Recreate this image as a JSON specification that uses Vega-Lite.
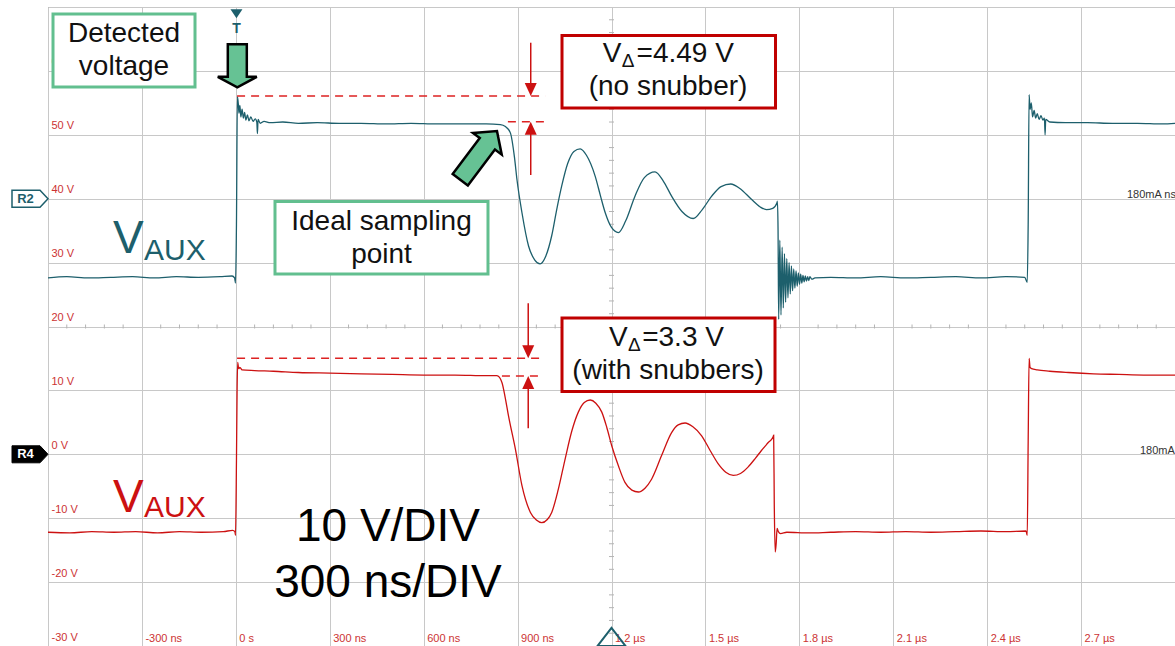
{
  "$schema": "https://vega.github.io/schema/vega-lite/v6.json",
  "width": 1127,
  "height": 639,
  "autosize": {"type": "none"},
  "padding": {"left": 48, "top": 7, "right": 0, "bottom": 0},
  "background": "white",
  "config": {"view": {"stroke": "#808080", "strokeWidth": 1}, "font": "Liberation Sans"},
  "encoding": {
    "x": {"field": "t", "type": "quantitative",
      "scale": {"domain": [-600, 3000], "nice": false, "zero": false},
      "axis": {"title": null, "values": [-600, -300, 0, 300, 600, 900, 1200, 1500, 1800, 2100, 2400, 2700, 3000],
        "grid": true, "gridColor": "#c8c8c8", "gridWidth": 1, "domain": false, "ticks": false, "tickSize": 0,
        "labelAlign": "left", "labelBaseline": "alphabetic", "labelPadding": -5, "labelOffset": 3,
        "labelFlush": false, "labelOverlap": false, "labelAngle": 0, "labelColor": "#cc3333",
        "labelFont": "Liberation Sans", "labelFontSize": 11,
        "labelExpr": "datum.value == -600 || datum.value == 3000 ? '' : datum.value == 0 ? '0 s' : abs(datum.value) < 1000 ? datum.value + ' ns' : format(datum.value / 1000, '.1f') + ' µs'"}},
    "y": {"field": "v", "type": "quantitative",
      "scale": {"domain": [-30, 70], "nice": false, "zero": false},
      "axis": {"title": null, "values": [-30, -20, -10, 0, 10, 20, 30, 40, 50, 60, 70],
        "grid": true, "gridColor": "#c8c8c8", "gridWidth": 1, "domain": false, "ticks": false, "tickSize": 0,
        "labelAlign": "left", "labelBaseline": "alphabetic", "labelPadding": -3, "labelOffset": -6,
        "labelOverlap": false, "labelColor": "#cc3333", "labelFont": "Liberation Sans", "labelFontSize": 11,
        "labelExpr": "datum.value >= 70 ? '' : datum.value + ' V'"}}
  },
  "layer": [
    {
      "data": {"values": [
        {"t": -540, "v": 20}, {"t": -480, "v": 20}, {"t": -420, "v": 20}, {"t": -360, "v": 20},
        {"t": -240, "v": 20}, {"t": -180, "v": 20}, {"t": -120, "v": 20}, {"t": -60, "v": 20},
        {"t": 60, "v": 20}, {"t": 120, "v": 20}, {"t": 180, "v": 20}, {"t": 240, "v": 20},
        {"t": 360, "v": 20}, {"t": 420, "v": 20}, {"t": 480, "v": 20}, {"t": 540, "v": 20},
        {"t": 660, "v": 20}, {"t": 720, "v": 20}, {"t": 780, "v": 20}, {"t": 840, "v": 20},
        {"t": 960, "v": 20}, {"t": 1020, "v": 20}, {"t": 1080, "v": 20}, {"t": 1140, "v": 20},
        {"t": 1260, "v": 20}, {"t": 1320, "v": 20}, {"t": 1380, "v": 20}, {"t": 1440, "v": 20},
        {"t": 1560, "v": 20}, {"t": 1620, "v": 20}, {"t": 1680, "v": 20}, {"t": 1740, "v": 20},
        {"t": 1860, "v": 20}, {"t": 1920, "v": 20}, {"t": 1980, "v": 20}, {"t": 2040, "v": 20},
        {"t": 2160, "v": 20}, {"t": 2220, "v": 20}, {"t": 2280, "v": 20}, {"t": 2340, "v": 20},
        {"t": 2460, "v": 20}, {"t": 2520, "v": 20}, {"t": 2580, "v": 20}, {"t": 2640, "v": 20},
        {"t": 2760, "v": 20}, {"t": 2820, "v": 20}, {"t": 2880, "v": 20}, {"t": 2940, "v": 20}
      ]},
      "mark": {"type": "tick", "orient": "vertical", "size": 4, "thickness": 1, "color": "#b4b4b4", "opacity": 1}
    },
    {
      "data": {"values": [
        {"t": 1200, "v": -28}, {"t": 1200, "v": -26}, {"t": 1200, "v": -24}, {"t": 1200, "v": -22},
        {"t": 1200, "v": -18}, {"t": 1200, "v": -16}, {"t": 1200, "v": -14}, {"t": 1200, "v": -12},
        {"t": 1200, "v": -8}, {"t": 1200, "v": -6}, {"t": 1200, "v": -4}, {"t": 1200, "v": -2},
        {"t": 1200, "v": 2}, {"t": 1200, "v": 4}, {"t": 1200, "v": 6}, {"t": 1200, "v": 8},
        {"t": 1200, "v": 12}, {"t": 1200, "v": 14}, {"t": 1200, "v": 16}, {"t": 1200, "v": 18},
        {"t": 1200, "v": 22}, {"t": 1200, "v": 24}, {"t": 1200, "v": 26}, {"t": 1200, "v": 28},
        {"t": 1200, "v": 32}, {"t": 1200, "v": 34}, {"t": 1200, "v": 36}, {"t": 1200, "v": 38},
        {"t": 1200, "v": 42}, {"t": 1200, "v": 44}, {"t": 1200, "v": 46}, {"t": 1200, "v": 48},
        {"t": 1200, "v": 52}, {"t": 1200, "v": 54}, {"t": 1200, "v": 56}, {"t": 1200, "v": 58},
        {"t": 1200, "v": 62}, {"t": 1200, "v": 64}, {"t": 1200, "v": 66}, {"t": 1200, "v": 68}
      ]},
      "mark": {"type": "tick", "orient": "horizontal", "size": 5, "thickness": 1, "color": "#b4b4b4", "opacity": 1}
    },
    {
      "data": {"values": [
        {"ch": "R2", "t": -600, "v": 27.6}, {"ch": "R2", "t": -540, "v": 27.8}, {"ch": "R2", "t": -470, "v": 27.6},
        {"ch": "R2", "t": -400, "v": 27.7}, {"ch": "R2", "t": -330, "v": 27.8}, {"ch": "R2", "t": -260, "v": 27.6},
        {"ch": "R2", "t": -190, "v": 27.8}, {"ch": "R2", "t": -120, "v": 27.7}, {"ch": "R2", "t": -50, "v": 27.8},
        {"ch": "R2", "t": -12, "v": 27.9}, {"ch": "R2", "t": -4, "v": 27.6}, {"ch": "R2", "t": -1, "v": 26.8},
        {"ch": "R2", "t": 2, "v": 36}, {"ch": "R2", "t": 5, "v": 56.0}, {"ch": "R2", "t": 8, "v": 54.8},
        {"ch": "R2", "t": 10, "v": 53.4}, {"ch": "R2", "t": 13, "v": 54.6}, {"ch": "R2", "t": 16, "v": 52.8},
        {"ch": "R2", "t": 20, "v": 54.0}, {"ch": "R2", "t": 24, "v": 52.6}, {"ch": "R2", "t": 28, "v": 53.5},
        {"ch": "R2", "t": 32, "v": 52.3}, {"ch": "R2", "t": 37, "v": 53.1}, {"ch": "R2", "t": 42, "v": 52.2},
        {"ch": "R2", "t": 48, "v": 52.8}, {"ch": "R2", "t": 55, "v": 52.1}, {"ch": "R2", "t": 62, "v": 52.5},
        {"ch": "R2", "t": 67, "v": 52.0}, {"ch": "R2", "t": 69, "v": 50.2}, {"ch": "R2", "t": 71, "v": 52.4},
        {"ch": "R2", "t": 78, "v": 51.8}, {"ch": "R2", "t": 90, "v": 52.1}, {"ch": "R2", "t": 110, "v": 51.9},
        {"ch": "R2", "t": 150, "v": 52.0}, {"ch": "R2", "t": 200, "v": 51.8}, {"ch": "R2", "t": 260, "v": 51.9},
        {"ch": "R2", "t": 330, "v": 51.8}, {"ch": "R2", "t": 400, "v": 51.8}, {"ch": "R2", "t": 480, "v": 51.7},
        {"ch": "R2", "t": 560, "v": 51.8}, {"ch": "R2", "t": 640, "v": 51.7}, {"ch": "R2", "t": 720, "v": 51.7},
        {"ch": "R2", "t": 800, "v": 51.7}, {"ch": "R2", "t": 845, "v": 51.6}, {"ch": "R2", "t": 861, "v": 51.3},
        {"ch": "R2", "t": 877, "v": 50.3}, {"ch": "R2", "t": 890, "v": 46.5}, {"ch": "R2", "t": 898, "v": 43.0},
        {"ch": "R2", "t": 914, "v": 37.8}, {"ch": "R2", "t": 935, "v": 32.6}, {"ch": "R2", "t": 955, "v": 30.4},
        {"ch": "R2", "t": 972, "v": 29.8}, {"ch": "R2", "t": 990, "v": 31.0}, {"ch": "R2", "t": 1009, "v": 34.2},
        {"ch": "R2", "t": 1025, "v": 38.3}, {"ch": "R2", "t": 1041, "v": 42.0}, {"ch": "R2", "t": 1060, "v": 45.5},
        {"ch": "R2", "t": 1080, "v": 47.4}, {"ch": "R2", "t": 1100, "v": 47.8}, {"ch": "R2", "t": 1120, "v": 46.8},
        {"ch": "R2", "t": 1148, "v": 43.5}, {"ch": "R2", "t": 1165, "v": 40.4}, {"ch": "R2", "t": 1180, "v": 37.8},
        {"ch": "R2", "t": 1200, "v": 35.5}, {"ch": "R2", "t": 1222, "v": 34.7}, {"ch": "R2", "t": 1245, "v": 36.5},
        {"ch": "R2", "t": 1275, "v": 40.4}, {"ch": "R2", "t": 1305, "v": 43.3}, {"ch": "R2", "t": 1339, "v": 44.2},
        {"ch": "R2", "t": 1365, "v": 42.8}, {"ch": "R2", "t": 1392, "v": 40.4}, {"ch": "R2", "t": 1425, "v": 38.0},
        {"ch": "R2", "t": 1461, "v": 36.9}, {"ch": "R2", "t": 1490, "v": 38.3}, {"ch": "R2", "t": 1520, "v": 40.4},
        {"ch": "R2", "t": 1550, "v": 41.9}, {"ch": "R2", "t": 1581, "v": 42.3}, {"ch": "R2", "t": 1610, "v": 41.6},
        {"ch": "R2", "t": 1647, "v": 39.9}, {"ch": "R2", "t": 1675, "v": 38.7}, {"ch": "R2", "t": 1695, "v": 38.3},
        {"ch": "R2", "t": 1715, "v": 38.5}, {"ch": "R2", "t": 1728, "v": 39.3}, {"ch": "R2", "t": 1730, "v": 39.6},
        {"ch": "R2", "t": 1732, "v": 35.2}, {"ch": "R2", "t": 1734, "v": 21.1}, {"ch": "R2", "t": 1737.7, "v": 33.5},
        {"ch": "R2", "t": 1741.4, "v": 21.8}, {"ch": "R2", "t": 1745.1, "v": 32.4}, {"ch": "R2", "t": 1748.8, "v": 22.9},
        {"ch": "R2", "t": 1752.5, "v": 31.4}, {"ch": "R2", "t": 1756.2, "v": 23.8}, {"ch": "R2", "t": 1759.9, "v": 30.6},
        {"ch": "R2", "t": 1763.6, "v": 24.5}, {"ch": "R2", "t": 1767.3, "v": 30.0}, {"ch": "R2", "t": 1771, "v": 25.1},
        {"ch": "R2", "t": 1774.7, "v": 29.5}, {"ch": "R2", "t": 1778.4, "v": 25.6}, {"ch": "R2", "t": 1782.1, "v": 29.0},
        {"ch": "R2", "t": 1785.8, "v": 26.0}, {"ch": "R2", "t": 1789.5, "v": 28.7}, {"ch": "R2", "t": 1793.2, "v": 26.3},
        {"ch": "R2", "t": 1796.9, "v": 28.4}, {"ch": "R2", "t": 1800.6, "v": 26.6}, {"ch": "R2", "t": 1804.3, "v": 28.2},
        {"ch": "R2", "t": 1808, "v": 26.8}, {"ch": "R2", "t": 1811.7, "v": 28.0}, {"ch": "R2", "t": 1815.4, "v": 27.0},
        {"ch": "R2", "t": 1819.1, "v": 27.9}, {"ch": "R2", "t": 1822.8, "v": 27.1}, {"ch": "R2", "t": 1826.5, "v": 27.8},
        {"ch": "R2", "t": 1830.2, "v": 27.2}, {"ch": "R2", "t": 1833.9, "v": 27.8}, {"ch": "R2", "t": 1840, "v": 27.4},
        {"ch": "R2", "t": 1850, "v": 27.6}, {"ch": "R2", "t": 1900, "v": 27.7}, {"ch": "R2", "t": 1980, "v": 27.6},
        {"ch": "R2", "t": 2060, "v": 27.8}, {"ch": "R2", "t": 2140, "v": 27.6}, {"ch": "R2", "t": 2220, "v": 27.7},
        {"ch": "R2", "t": 2300, "v": 27.8}, {"ch": "R2", "t": 2380, "v": 27.6}, {"ch": "R2", "t": 2460, "v": 27.8},
        {"ch": "R2", "t": 2520, "v": 27.7}, {"ch": "R2", "t": 2528, "v": 26.9}, {"ch": "R2", "t": 2531, "v": 36},
        {"ch": "R2", "t": 2534, "v": 56.3}, {"ch": "R2", "t": 2537, "v": 54.0}, {"ch": "R2", "t": 2541, "v": 55.0},
        {"ch": "R2", "t": 2545, "v": 52.8}, {"ch": "R2", "t": 2550, "v": 53.8}, {"ch": "R2", "t": 2555, "v": 52.6},
        {"ch": "R2", "t": 2560, "v": 53.3}, {"ch": "R2", "t": 2566, "v": 52.4}, {"ch": "R2", "t": 2572, "v": 53.0},
        {"ch": "R2", "t": 2578, "v": 52.3}, {"ch": "R2", "t": 2583, "v": 52.6}, {"ch": "R2", "t": 2585, "v": 50.0},
        {"ch": "R2", "t": 2587, "v": 52.4}, {"ch": "R2", "t": 2600, "v": 52.0}, {"ch": "R2", "t": 2650, "v": 51.9},
        {"ch": "R2", "t": 2720, "v": 51.9}, {"ch": "R2", "t": 2800, "v": 51.8}, {"ch": "R2", "t": 2880, "v": 51.8},
        {"ch": "R2", "t": 2960, "v": 51.7}, {"ch": "R2", "t": 3000, "v": 51.8},
        {"ch": "R4", "t": -600, "v": -12.2}, {"ch": "R4", "t": -530, "v": -12.3}, {"ch": "R4", "t": -460, "v": -12.1},
        {"ch": "R4", "t": -390, "v": -12.2}, {"ch": "R4", "t": -320, "v": -12.1}, {"ch": "R4", "t": -250, "v": -12.3},
        {"ch": "R4", "t": -180, "v": -12.1}, {"ch": "R4", "t": -110, "v": -12.2}, {"ch": "R4", "t": -40, "v": -12.1},
        {"ch": "R4", "t": -10, "v": -11.9}, {"ch": "R4", "t": -3, "v": -12.1}, {"ch": "R4", "t": -1, "v": -12.7},
        {"ch": "R4", "t": 2, "v": -1}, {"ch": "R4", "t": 4, "v": 10}, {"ch": "R4", "t": 6, "v": 14.4},
        {"ch": "R4", "t": 9, "v": 13.4}, {"ch": "R4", "t": 13, "v": 13.6}, {"ch": "R4", "t": 20, "v": 13.2},
        {"ch": "R4", "t": 60, "v": 13.1}, {"ch": "R4", "t": 120, "v": 13.0}, {"ch": "R4", "t": 200, "v": 12.8},
        {"ch": "R4", "t": 300, "v": 12.7}, {"ch": "R4", "t": 400, "v": 12.6}, {"ch": "R4", "t": 500, "v": 12.5},
        {"ch": "R4", "t": 600, "v": 12.4}, {"ch": "R4", "t": 700, "v": 12.4}, {"ch": "R4", "t": 800, "v": 12.3},
        {"ch": "R4", "t": 834, "v": 12.3}, {"ch": "R4", "t": 850, "v": 11.25}, {"ch": "R4", "t": 860, "v": 9.0},
        {"ch": "R4", "t": 871, "v": 6.0}, {"ch": "R4", "t": 893, "v": 0.8}, {"ch": "R4", "t": 914, "v": -4.9},
        {"ch": "R4", "t": 941, "v": -9.1}, {"ch": "R4", "t": 960, "v": -10.3}, {"ch": "R4", "t": 977, "v": -10.7},
        {"ch": "R4", "t": 995, "v": -10.2}, {"ch": "R4", "t": 1009, "v": -9.1}, {"ch": "R4", "t": 1030, "v": -5.5},
        {"ch": "R4", "t": 1052, "v": -0.7}, {"ch": "R4", "t": 1073, "v": 3.6}, {"ch": "R4", "t": 1094, "v": 6.6},
        {"ch": "R4", "t": 1113, "v": 8.1}, {"ch": "R4", "t": 1132, "v": 8.5}, {"ch": "R4", "t": 1150, "v": 8.0},
        {"ch": "R4", "t": 1169, "v": 6.6}, {"ch": "R4", "t": 1185, "v": 4.2}, {"ch": "R4", "t": 1201, "v": 1.3},
        {"ch": "R4", "t": 1222, "v": -1.8}, {"ch": "R4", "t": 1243, "v": -4.4}, {"ch": "R4", "t": 1265, "v": -5.6},
        {"ch": "R4", "t": 1286, "v": -5.9}, {"ch": "R4", "t": 1307, "v": -5.3}, {"ch": "R4", "t": 1328, "v": -3.9},
        {"ch": "R4", "t": 1360, "v": -0.2}, {"ch": "R4", "t": 1392, "v": 3.4}, {"ch": "R4", "t": 1413, "v": 4.6},
        {"ch": "R4", "t": 1435, "v": 4.9}, {"ch": "R4", "t": 1460, "v": 4.3}, {"ch": "R4", "t": 1488, "v": 2.9},
        {"ch": "R4", "t": 1515, "v": 0.6}, {"ch": "R4", "t": 1541, "v": -1.5}, {"ch": "R4", "t": 1565, "v": -2.8},
        {"ch": "R4", "t": 1589, "v": -3.3}, {"ch": "R4", "t": 1612, "v": -3.0}, {"ch": "R4", "t": 1636, "v": -2.0},
        {"ch": "R4", "t": 1660, "v": -0.6}, {"ch": "R4", "t": 1679, "v": 0.6}, {"ch": "R4", "t": 1700, "v": 1.8},
        {"ch": "R4", "t": 1716, "v": 2.7}, {"ch": "R4", "t": 1718, "v": 3.0}, {"ch": "R4", "t": 1720, "v": -8},
        {"ch": "R4", "t": 1723, "v": -15.3}, {"ch": "R4", "t": 1726, "v": -14.0}, {"ch": "R4", "t": 1729, "v": -11.6},
        {"ch": "R4", "t": 1733, "v": -12.1}, {"ch": "R4", "t": 1740, "v": -12.4}, {"ch": "R4", "t": 1760, "v": -12.2},
        {"ch": "R4", "t": 1830, "v": -12.3}, {"ch": "R4", "t": 1900, "v": -12.2}, {"ch": "R4", "t": 1980, "v": -12.1},
        {"ch": "R4", "t": 2060, "v": -12.2}, {"ch": "R4", "t": 2140, "v": -12.1}, {"ch": "R4", "t": 2220, "v": -12.2},
        {"ch": "R4", "t": 2300, "v": -12.1}, {"ch": "R4", "t": 2380, "v": -12.0}, {"ch": "R4", "t": 2460, "v": -12.1},
        {"ch": "R4", "t": 2524, "v": -12.0}, {"ch": "R4", "t": 2528, "v": -12.7}, {"ch": "R4", "t": 2531, "v": 2},
        {"ch": "R4", "t": 2534, "v": 15.0}, {"ch": "R4", "t": 2537, "v": 13.6}, {"ch": "R4", "t": 2542, "v": 13.4},
        {"ch": "R4", "t": 2560, "v": 13.2}, {"ch": "R4", "t": 2600, "v": 13.0}, {"ch": "R4", "t": 2660, "v": 12.8},
        {"ch": "R4", "t": 2740, "v": 12.6}, {"ch": "R4", "t": 2820, "v": 12.5}, {"ch": "R4", "t": 2900, "v": 12.4},
        {"ch": "R4", "t": 3000, "v": 12.4}
      ]},
      "mark": {"type": "line", "strokeWidth": 1.3, "clip": true, "interpolate": "monotone"},
      "encoding": {
        "color": {"field": "ch", "type": "nominal", "scale": {"domain": ["R2", "R4"], "range": ["#1d5f6c", "#cc1111"]}, "legend": null}
      }
    },
    {
      "data": {"values": [
        {"t": 4, "t2": 988, "v": 56.07}, {"t": 869, "t2": 988, "v": 52.05},
        {"t": 4, "t2": 978, "v": 15.02}, {"t": 850, "t2": 978, "v": 12.25}
      ]},
      "mark": {"type": "rule", "color": "#dd2222", "strokeWidth": 1.5, "strokeDash": [8, 6]},
      "encoding": {"x2": {"field": "t2"}}
    },
    {
      "data": {"values": [
        {"t": 942, "v": 64.41, "v2": 57}, {"t": 942, "v": 51, "v2": 43.71},
        {"t": 934, "v": 23.63, "v2": 16}, {"t": 934, "v": 11.3, "v2": 4.07}
      ]},
      "mark": {"type": "rule", "color": "#cc1111", "strokeWidth": 1.5},
      "encoding": {"y2": {"field": "v2"}}
    },
    {
      "data": {"values": [{"t": 942, "v": 56.07}, {"t": 934, "v": 15.02}]},
      "mark": {"type": "point", "shape": "M0,0L-6,-13L6,-13Z", "size": 4, "filled": true, "fill": "#cc1111", "strokeWidth": 0, "opacity": 1}
    },
    {
      "data": {"values": [{"t": 942, "v": 52.05}, {"t": 934, "v": 12.25}]},
      "mark": {"type": "point", "shape": "M0,0L-6,13L6,13Z", "size": 4, "filled": true, "fill": "#cc1111", "strokeWidth": 0, "opacity": 1}
    },
    {
      "data": {"values": [
        {"t": -584, "t2": -130.4, "v": 68.9, "v2": 57.48},
        {"t": 125.1, "t2": 805.5, "v": 39.56, "v2": 28.22}
      ]},
      "mark": {"type": "rect", "fill": "white", "stroke": "#62bf8f", "strokeWidth": 3, "opacity": 1},
      "encoding": {"x2": {"field": "t2"}, "y2": {"field": "v2"}}
    },
    {
      "data": {"values": [
        {"t": 1041.9, "t2": 1723.9, "v": 65.54, "v2": 54.19},
        {"t": 1041.9, "t2": 1722.3, "v": 21.33, "v2": 9.83}
      ]},
      "mark": {"type": "rect", "fill": "white", "stroke": "#c00000", "strokeWidth": 3, "opacity": 1},
      "encoding": {"x2": {"field": "t2"}, "y2": {"field": "v2"}}
    },
    {
      "data": {"values": [
        {"label": "Detected", "t": -357.2, "v": 64.57},
        {"label": "voltage", "t": -357.2, "v": 59.36},
        {"label": "Ideal sampling", "t": 465.3, "v": 35.1},
        {"label": "point", "t": 465.3, "v": 29.86},
        {"label": "(no snubber)", "t": 1380.5, "v": 56.23},
        {"label": "(with snubbers)", "t": 1380.5, "v": 11.78}
      ]},
      "mark": {"type": "text", "font": "Liberation Sans", "fontSize": 28, "align": "center", "baseline": "alphabetic", "color": "#111111"},
      "encoding": {"text": {"field": "label"}}
    },
    {
      "data": {"values": [
        {"label": "V", "t": 1171.9, "v": 61.44},
        {"label": "=4.49 V", "t": 1280, "v": 61.44},
        {"label": "V", "t": 1192, "v": 17.0},
        {"label": "=3.3 V", "t": 1298, "v": 17.0}
      ]},
      "mark": {"type": "text", "font": "Liberation Sans", "fontSize": 28, "align": "left", "baseline": "alphabetic", "color": "#111111"},
      "encoding": {"text": {"field": "label"}}
    },
    {
      "data": {"values": [
        {"label": "Δ", "t": 1232.6, "v": 60.66},
        {"label": "Δ", "t": 1252.7, "v": 16.21}
      ]},
      "mark": {"type": "text", "font": "Liberation Sans", "fontSize": 19, "align": "left", "baseline": "alphabetic", "color": "#111111"},
      "encoding": {"text": {"field": "label"}}
    },
    {
      "data": {"values": [
        {"label": "10 V/DIV", "t": 486, "v": -13.57},
        {"label": "300 ns/DIV", "t": 486, "v": -22.33}
      ]},
      "mark": {"type": "text", "font": "Liberation Sans", "fontSize": 46, "align": "center", "baseline": "alphabetic", "color": "#000000"},
      "encoding": {"text": {"field": "label"}}
    },
    {
      "data": {"values": [{"label": "V", "t": -392.4, "v": 31.5}]},
      "mark": {"type": "text", "font": "Liberation Sans", "fontSize": 46, "align": "left", "baseline": "alphabetic", "color": "#1d5f6c"},
      "encoding": {"text": {"field": "label"}}
    },
    {
      "data": {"values": [{"label": "AUX", "t": -293.3, "v": 30.41}]},
      "mark": {"type": "text", "font": "Liberation Sans", "fontSize": 30, "align": "left", "baseline": "alphabetic", "color": "#1d5f6c"},
      "encoding": {"text": {"field": "label"}}
    },
    {
      "data": {"values": [{"label": "V", "t": -392.4, "v": -8.98}]},
      "mark": {"type": "text", "font": "Liberation Sans", "fontSize": 46, "align": "left", "baseline": "alphabetic", "color": "#cc1111"},
      "encoding": {"text": {"field": "label"}}
    },
    {
      "data": {"values": [{"label": "AUX", "t": -293.3, "v": -9.77}]},
      "mark": {"type": "text", "font": "Liberation Sans", "fontSize": 30, "align": "left", "baseline": "alphabetic", "color": "#cc1111"},
      "encoding": {"text": {"field": "label"}}
    },
    {
      "data": {"values": [
        {"label": "180mA ns", "t": 2846.6, "v": 40.1},
        {"label": "180mA", "t": 2888, "v": 0.1}
      ]},
      "mark": {"type": "text", "font": "Liberation Sans", "fontSize": 11, "align": "left", "baseline": "alphabetic", "color": "#333333"},
      "encoding": {"text": {"field": "label"}}
    },
    {
      "data": {"values": [{"t": 4.7, "v": 57.43}]},
      "mark": {"type": "point", "shape": "M-9.5,-43L9.5,-43L9.5,-10.5L19.5,-10.5L0,0L-19.5,-10.5L-9.5,-10.5Z", "size": 4, "filled": true, "fill": "#66c294", "stroke": "#000000", "strokeWidth": 2.5, "strokeJoin": "miter", "opacity": 1}
    },
    {
      "data": {"values": [{"t": 834.2, "v": 50.59}]},
      "mark": {"type": "point", "shape": "M-9.5,-61L9.5,-61L9.5,-16L18,-16L0,0L-18,-16L-9.5,-16Z", "size": 4, "angle": 217, "filled": true, "fill": "#66c294", "stroke": "#000000", "strokeWidth": 2.5, "strokeJoin": "miter", "opacity": 1}
    },
    {
      "data": {"values": [{"t": -600, "v": 40}]},
      "mark": {"type": "point", "shape": "M0,0L-8,-8.5L-36,-8.5L-36,8.5L-8,8.5Z", "size": 4, "filled": true, "fill": "white", "stroke": "#1d5f6c", "strokeWidth": 1.5, "opacity": 1, "clip": false}
    },
    {
      "data": {"values": [{"t": -600, "v": 0}]},
      "mark": {"type": "point", "shape": "M0,0L-8,-8.5L-36,-8.5L-36,8.5L-8,8.5Z", "size": 4, "filled": true, "fill": "#000000", "stroke": "#000000", "strokeWidth": 1, "opacity": 1, "clip": false}
    },
    {
      "data": {"values": [{"label": "R2", "t": -672, "v": 40}]},
      "mark": {"type": "text", "font": "Liberation Sans", "fontSize": 13, "fontWeight": "bold", "align": "center", "baseline": "middle", "color": "#1d5f6c"},
      "encoding": {"text": {"field": "label"}}
    },
    {
      "data": {"values": [{"label": "R4", "t": -672, "v": 0}]},
      "mark": {"type": "text", "font": "Liberation Sans", "fontSize": 13, "fontWeight": "bold", "align": "center", "baseline": "middle", "color": "#ffffff"},
      "encoding": {"text": {"field": "label"}}
    },
    {
      "data": {"values": [{"t": 2, "v": 68.94}]},
      "mark": {"type": "point", "shape": "M-6,-4.5L6,-4.5L0,4.5Z", "size": 4, "filled": true, "fill": "#1d5f6c", "strokeWidth": 0, "opacity": 1}
    },
    {
      "data": {"values": [{"label": "T", "t": 2, "v": 65.88}]},
      "mark": {"type": "text", "font": "Liberation Sans", "fontSize": 14, "fontWeight": "bold", "align": "center", "baseline": "alphabetic", "color": "#1d5f6c"},
      "encoding": {"text": {"field": "label"}}
    },
    {
      "data": {"values": [{"t": 1200, "v": -27.18}]},
      "mark": {"type": "point", "shape": "M0,0L-14,18L14,18Z", "size": 4, "filled": false, "fill": null, "stroke": "#1d5f6c", "strokeWidth": 2, "opacity": 1}
    }
  ]
}
